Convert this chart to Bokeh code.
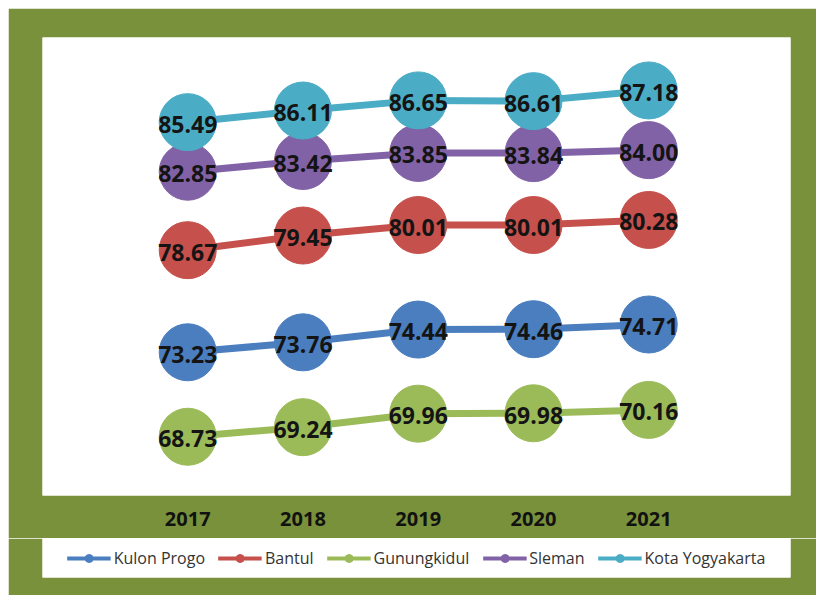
from bokeh.plotting import figure
from bokeh.layouts import column
from bokeh.models import Legend, LegendItem, FixedTicker, Range1d, ColumnDataSource
from bokeh.core.properties import value
from bokeh.embed import file_html
from bokeh.resources import INLINE

years = [2017, 2018, 2019, 2020, 2021]
kulon_progo = [73.23, 73.76, 74.44, 74.46, 74.71]
bantul = [78.67, 79.45, 80.01, 80.01, 80.28]
gunungkidul = [68.73, 69.24, 69.96, 69.98, 70.16]
sleman = [82.85, 83.42, 83.85, 83.84, 84.00]
kota_yogyakarta = [85.49, 86.11, 86.65, 86.61, 87.18]

series_names = ["Kulon Progo", "Bantul", "Gunungkidul", "Sleman", "Kota Yogyakarta"]
series_values = [kulon_progo, bantul, gunungkidul, sleman, kota_yogyakarta]
colors = ["#4a7ebf", "#c6504b", "#9bbb59", "#8262a6", "#4bacc6"]

FRAME_GREEN = "#78913a"

# main chart
p = figure(frame_width=748, frame_height=458,
           x_range=Range1d(2015.74, 2022.23), y_range=Range1d(65.6, 90.0),
           output_backend="svg", toolbar_location=None, y_axis_location=None,
           min_border_left=34, min_border_right=26, min_border_top=29, min_border_bottom=43,
           background_fill_color="white", border_fill_color=FRAME_GREEN,
           outline_line_color=None)
p.grid.visible = False

xa = p.xaxis[0]
xa.ticker = FixedTicker(ticks=years)
xa.axis_line_color = None
xa.major_tick_line_color = None
xa.minor_tick_line_color = None
xa.major_tick_out = 0
xa.major_tick_in = 0
xa.major_label_standoff = 16
xa.major_label_text_font = "Open Sans"
xa.major_label_text_font_style = "bold"
xa.major_label_text_font_size = "20px"
xa.major_label_text_color = "#111111"

for name, vals, col in zip(series_names, series_values, colors):
    src = ColumnDataSource(dict(x=years, y=vals, lab=[f"{v:.2f}" for v in vals]))
    p.line("x", "y", source=src, line_width=7, line_color=col)
    p.scatter("x", "y", source=src, size=57, fill_color=col, line_color=col)
    p.text("x", "y", text="lab", source=src, text_align="center", text_baseline="middle",
           text_font=value("Open Sans"), text_font_style="bold", text_font_size="23px",
           text_color="#141414", y_offset=2)

# legend strip (legend proxies drawn outside the visible range)
lg = figure(frame_width=748, frame_height=39,
            x_range=Range1d(0, 1), y_range=Range1d(0, 1),
            output_backend="svg", toolbar_location=None,
            x_axis_location=None, y_axis_location=None,
            min_border_left=34, min_border_right=26, min_border_top=0, min_border_bottom=18,
            background_fill_color="white", border_fill_color=FRAME_GREEN,
            outline_line_color=None)
lg.grid.visible = False

items = []
for name, vals, col in zip(series_names, series_values, colors):
    lr = lg.line(years, vals, line_width=4, line_color=col)
    sr = lg.scatter(years, vals, size=8, fill_color=col, line_color=col)
    items.append(LegendItem(label=name, renderers=[lr, sr]))

legend = Legend(items=items, orientation="horizontal", location="center",
                background_fill_color="white", background_fill_alpha=1.0,
                border_line_color=None, padding=4, spacing=13, margin=0,
                glyph_width=44, glyph_height=20, label_standoff=3, label_height=20,
                label_text_font="Open Sans", label_text_font_size="16px",
                label_text_color="#333333")
lg.add_layout(legend, "center")

layout = column(p, lg, spacing=0, margin=(8, 0, 0, 8))

open("out.html", "w").write(file_html(layout, INLINE))
